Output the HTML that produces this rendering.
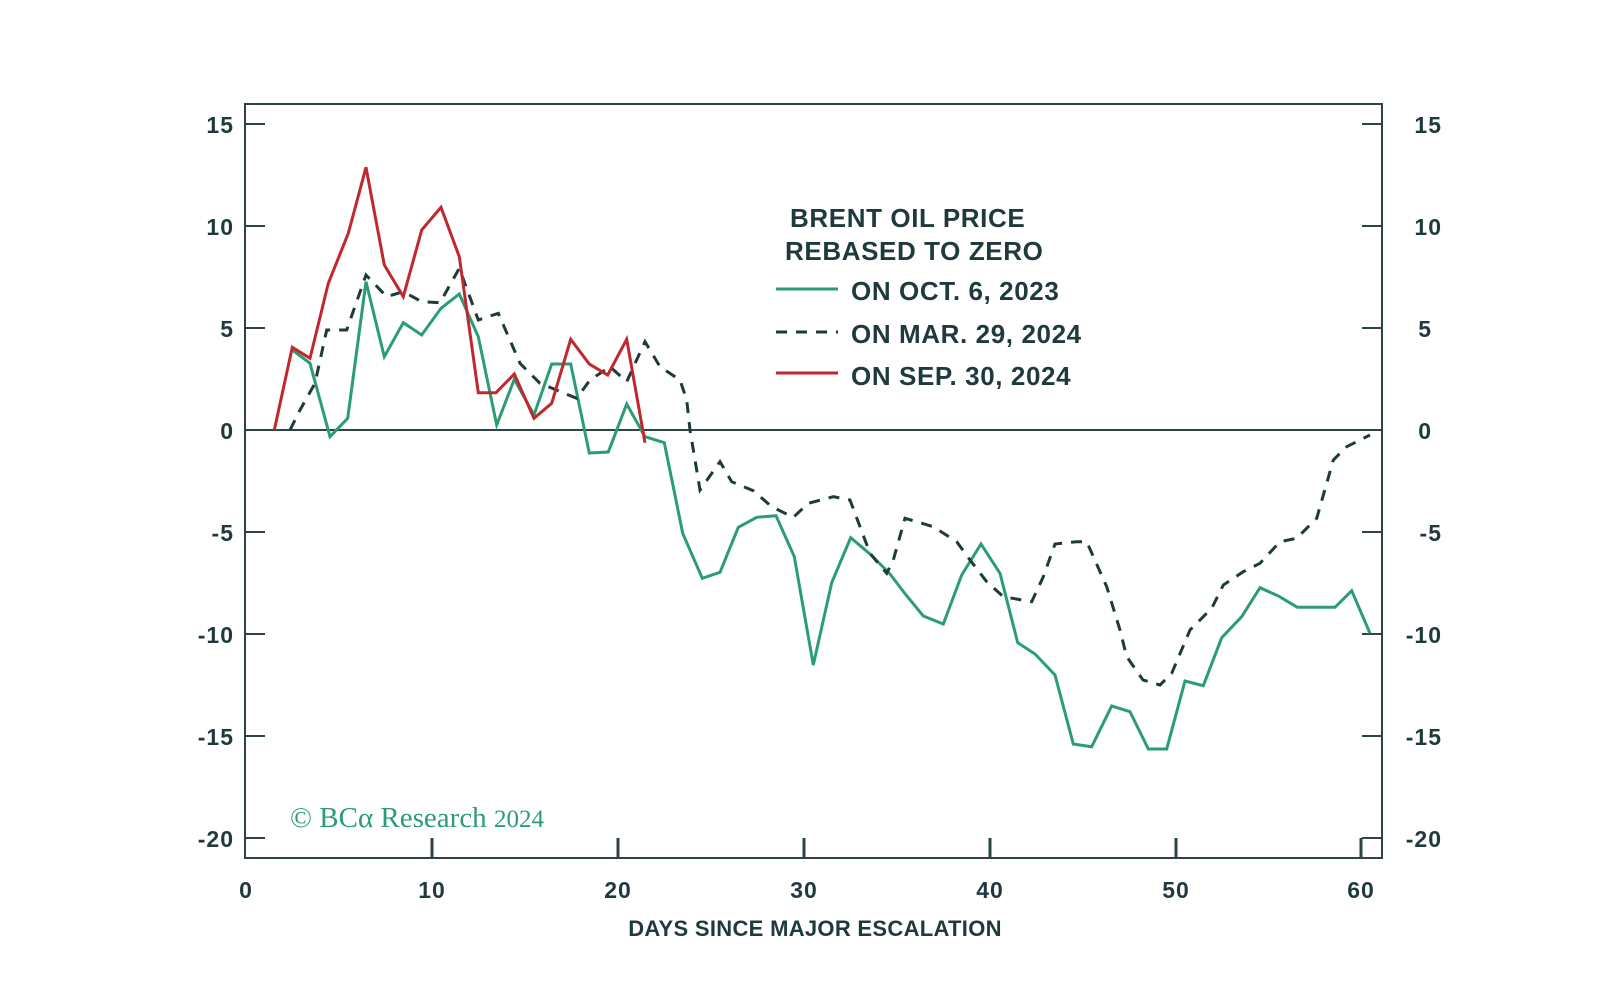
<!DOCTYPE html>
<html><head><meta charset="utf-8"><style>
html,body{margin:0;padding:0;background:#fff;}
svg{display:block;}
.t{font-family:"Liberation Sans",sans-serif;font-weight:bold;fill:#1f3a3d;}
</style></head><body>
<svg width="1600" height="1007" viewBox="0 0 1600 1007" xmlns="http://www.w3.org/2000/svg">
<rect x="0" y="0" width="1600" height="1007" fill="#fff"/>
<g stroke="#2c4448" stroke-width="2" fill="none">
<rect x="245" y="104" width="1137" height="754"/>
<line x1="245" y1="430" x2="1382" y2="430"/>
<path d="M245 124H265M245 226H265M245 328H265M245 532H265M245 634H265M245 736H265M245 838H265"/>
<path d="M1362 124H1382M1362 226H1382M1362 328H1382M1362 532H1382M1362 634H1382M1362 736H1382M1362 838H1382"/>
<path d="M432 858V838M618 858V838M804 858V838M990 858V838M1176 858V838M1361 858V838" stroke-width="3"/>
</g>
<g class="t" font-size="23" text-anchor="end" letter-spacing="1">
<text x="234" y="133">15</text><text x="234" y="235">10</text><text x="234" y="337">5</text><text x="234" y="439">0</text>
<text x="234" y="541">-5</text><text x="234" y="643">-10</text><text x="234" y="745">-15</text><text x="234" y="847">-20</text>
</g>
<g class="t" font-size="23" text-anchor="end" letter-spacing="1">
<text x="1442" y="133">15</text><text x="1442" y="235">10</text><text x="1432" y="337">5</text><text x="1432" y="439">0</text>
<text x="1442" y="541">-5</text><text x="1442" y="643">-10</text><text x="1442" y="745">-15</text><text x="1442" y="847">-20</text>
</g>
<g class="t" font-size="23" text-anchor="middle" letter-spacing="1">
<text x="246" y="898">0</text><text x="432" y="898">10</text><text x="618" y="898">20</text><text x="804" y="898">30</text><text x="990" y="898">40</text><text x="1176" y="898">50</text><text x="1361" y="898">60</text>
</g>
<text class="t" x="815" y="936" font-size="22" letter-spacing="0.3" text-anchor="middle">DAYS SINCE MAJOR ESCALATION</text>
<text x="290" y="827" font-family="'Liberation Serif',serif" font-size="29" fill="#2a9d74">© BCα Research <tspan font-size="25">2024</tspan></text>
<g fill="none" stroke-width="3" stroke-linejoin="miter">
<polyline stroke="#2a9d74" points="292.3,350 310,363.3 330,436.7 347.7,418.3 366,281.7 384.3,356.7 403.3,322.7 421.7,335 441,308.3 459.3,294 478.3,336.7 496.7,425 514.3,379.3 534,415 551.7,364 570.7,364 589.3,453 608.3,452 626.7,404 645,436.7 664.3,442.7 682.7,533.3 702.3,578.3 720,572.3 738.3,527.3 756.7,517.3 776,515.7 794.3,556.7 813.3,665 831.7,582.7 850.7,537.7 870,554 890,574 906,595 923.3,616 943.3,624 961.7,575 981,544 1000,573.3 1017.7,642.7 1035,654 1055,675 1073.3,744 1091.7,746.7 1111.7,706 1130,711.7 1148.3,749 1166.7,749 1185,681 1203.3,685.7 1221.7,637.7 1241.7,616.7 1260,587.7 1278.3,596 1297.3,607.3 1335,607.3 1351.7,590.7 1370,633.3"/>
<polyline stroke="#1f3a3d" stroke-dasharray="11,9" points="290,430 300,410 315,383.3 326.7,330 346.7,330 366,275 386.7,296.7 403.3,291.7 421.7,301.7 440,302.7 459.3,268.3 478.3,320 498.3,313.3 520,363.3 540,383.3 576.7,398.3 590,380 610,366.7 626.7,381.7 645,341.7 660,366.7 680,380 686.7,400 690,430 700,490 720,461.7 731.7,481.7 753.3,490.7 771.7,506.7 793.3,517.3 808.3,503.3 833.3,496.7 850,500 860,526.7 870,553.3 886.7,573.3 893.3,560 905,518.3 933.3,526.7 956.7,541.7 970,560 986.7,581.7 1003.3,596.7 1031.7,601.7 1043.3,576.7 1055,544 1076.7,541.7 1086.7,541.7 1106.7,586.7 1120,630 1126.7,656.7 1143,680 1160,685 1171.7,673.3 1190,630 1211.7,608.3 1223.3,585 1243.3,571.7 1260,563.3 1280,541.7 1296.7,538.3 1316.7,518.3 1326.7,483.3 1333.3,460 1346.7,446.7 1370,435"/>
<polyline stroke="#c0282e" points="274.3,430 292.3,347.3 310,358.3 328.3,283.3 348.3,233.3 366,167.3 384.3,265 403.3,296.7 421.7,230 441,207.3 459.3,256.7 478.3,392.7 496,392.7 514.3,374 534,418.3 551.7,403.3 570.7,339.3 589.3,364 607.7,375 626.7,339.3 645,442.7"/>
</g>
<g class="t" font-size="26" letter-spacing="0.6">
<text x="790" y="227">BRENT OIL PRICE</text>
<text x="785" y="260">REBASED TO ZERO</text>
<text x="851" y="300">ON OCT. 6, 2023</text>
<text x="851" y="343">ON MAR. 29, 2024</text>
<text x="851" y="385">ON SEP. 30, 2024</text>
</g>
<line x1="776" y1="289" x2="838" y2="289" stroke="#2a9d74" stroke-width="3"/>
<line x1="776" y1="332" x2="838" y2="332" stroke="#1f3a3d" stroke-width="3" stroke-dasharray="11,9"/>
<line x1="776" y1="373" x2="838" y2="373" stroke="#c0282e" stroke-width="3"/>
</svg>
</body></html>
